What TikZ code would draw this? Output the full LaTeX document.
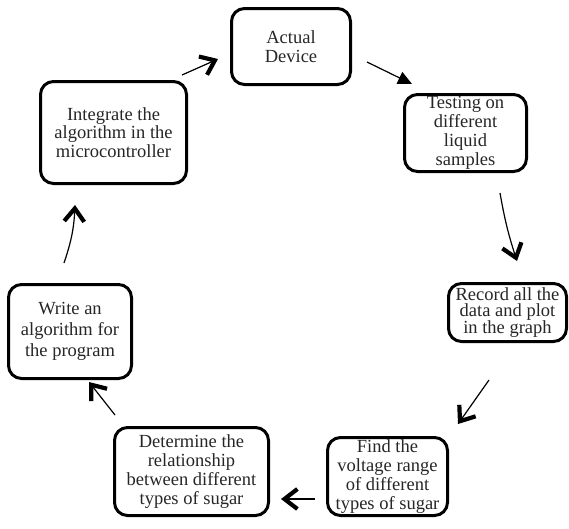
\documentclass[tikz,border=0pt]{standalone}
\usepackage{fontspec}
\setmainfont{Liberation Serif}
\usetikzlibrary{arrows.meta}
\begin{document}
\begin{tikzpicture}[x=1pt,y=-1pt,
  box/.style={draw=black, line width=3pt, rounded corners=13pt, align=center, inner sep=0pt,
    font=\fontsize{18.5}{18.8}\selectfont, text=black!85},
  link/.style={line width=1.2pt, -{Straight Barb[length=13pt,width=20pt,line width=4.2pt 0]}},
  flink/.style={line width=1.2pt, -{Triangle[length=14pt,width=13pt]}}]
\useasboundingbox (0,0) rectangle (569,528);
\node[box, minimum width=119pt, minimum height=76pt] (n1) at (291,46.5) {Actual\\Device};
\node[box, minimum width=122pt, minimum height=77pt] (n2) at (465.5,133) {Testing on\\different\\liquid\\samples};
\node[box, minimum width=118pt, minimum height=58pt, font=\fontsize{18.5}{16.8}\selectfont] (n3) at (507.5,312.5) {Record all the\\data and plot\\in the graph};
\node[box, minimum width=120pt, minimum height=78pt] (n4) at (387.5,476.5) {Find the\\voltage range\\of different\\types of sugar};
\node[box, minimum width=154pt, minimum height=88pt] (n5) at (191.5,471.5) {Determine the\\relationship\\between different\\types of sugar};
\node[box, minimum width=123pt, minimum height=94pt, font=\fontsize{18.5}{21}\selectfont] (n6) at (70,331.5) {Write an\\algorithm for\\the program};
\node[box, minimum width=146pt, minimum height=102pt] (n7) at (113.5,132.5) {Integrate the\\algorithm in the\\microcontroller};
\coordinate (a1s) at (182,75);  \coordinate (a1e) at (218,59);
\coordinate (a2s) at (367,62);  \coordinate (a2e) at (412,84);
\coordinate (a3s) at (500,193); \coordinate (a3e) at (517,261);
\coordinate (a4s) at (489,380); \coordinate (a4e) at (458,424);
\coordinate (a5s) at (315,499); \coordinate (a5e) at (281,499);
\coordinate (a6s) at (115,415); \coordinate (a6e) at (89,382);
\coordinate (a7s) at (64,263);  \coordinate (a7e) at (75,205);
\draw[link] (a1s) -- (a1e);
\draw[flink] (a2s) -- (a2e);
\draw[link] (a3s) to[bend right=4] (a3e);
\draw[link] (a4s) -- (a4e);
\draw[link] (a5s) -- (a5e);
\draw[link] (a6s) -- (a6e);
\draw[link] (a7s) to[bend right=8] (a7e);
\end{tikzpicture}
\end{document}
